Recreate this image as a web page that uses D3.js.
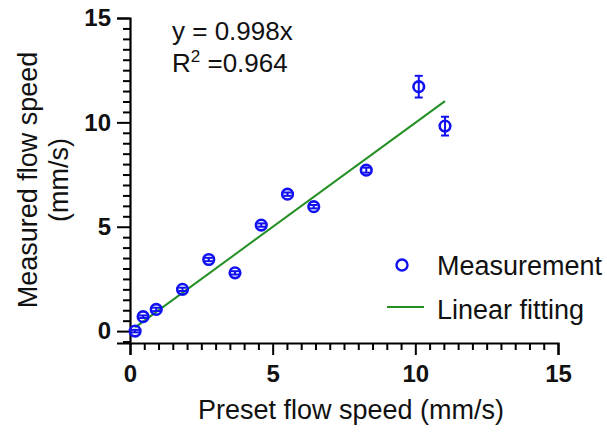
<!DOCTYPE html>
<html>
<head>
<meta charset="utf-8">
<script src="https://cdn.jsdelivr.net/npm/d3@7"></script>
<style>
  html, body { margin: 0; padding: 0; background: #fff; }
  svg { display: block; font-family: "Liberation Sans", Arial, sans-serif; }
</style>
</head>
<body>
<svg id="chart" width="607" height="433"></svg>
<script>
// ---- data ----
const presetSpeed   = [0.18, 0.46, 0.92, 1.84, 2.76, 3.68, 4.60, 5.52, 6.44, 8.28, 10.12, 11.04];
const measuredSpeed = [0.00, 0.69, 1.04, 2.00, 3.43, 2.79, 5.08, 6.56, 5.96, 7.71, 11.71, 9.82];
const measuredError = [0.06, 0.06, 0.08, 0.08, 0.08, 0.08, 0.08, 0.08, 0.08, 0.12, 0.52, 0.45];
const fitSlope = 0.998;
const fitRange = [0.18, 11.04];
const xTickValues = [0, 5, 10, 15];
const yTickValues = [0, 5, 10, 15];
const equationText = "y = 0.998x";
const r2Text = "=0.964";
const legendLabels = ["Measurement", "Linear fitting"];
const xTitle = "Preset flow speed (mm/s)";
const yTitleLines = ["Measured flow speed", "(mm/s)"];

// ---- chart ----
const svg = d3.select("#chart");
const blue = "#1010f0";
const green = "#249024";

const x = d3.scaleLinear().domain([0, 15]).range([130, 558]);
const y = d3.scaleLinear().domain([-0.57, 15]).range([343, 18]);

const minorX = d3.range(0, 15.01, 0.5).filter(v => v % 5 !== 0);
const minorY = d3.range(-0.5, 15.01, 0.5).filter(v => v % 5 !== 0);

// x axis
const gx = svg.append("g").attr("transform", `translate(0,${y(-0.57)})`);
gx.call(d3.axisBottom(x).tickValues(xTickValues).tickSize(12).tickPadding(10).tickFormat(d3.format("d")));
const gxm = svg.append("g").attr("transform", `translate(0,${y(-0.57)})`);
gxm.call(d3.axisBottom(x).tickValues(minorX).tickSize(7).tickFormat(""));
gxm.select(".domain").remove();

// y axis
const gy = svg.append("g").attr("transform", `translate(${x(0)},0)`);
gy.call(d3.axisLeft(y).tickValues(yTickValues).tickSize(13).tickPadding(6).tickFormat(d3.format("d")));
const gym = svg.append("g").attr("transform", `translate(${x(0)},0)`);
gym.call(d3.axisLeft(y).tickValues(minorY).tickSize(7).tickFormat(""));
gym.select(".domain").remove();

svg.selectAll(".domain").attr("stroke", "#000").attr("stroke-width", 2.2);
svg.selectAll(".tick line").attr("stroke", "#000").attr("stroke-width", 2);
svg.selectAll(".tick text")
  .attr("fill", "#111")
  .style("font-family", "'Liberation Sans', Arial, sans-serif")
  .style("font-size", "24px")
  .style("font-weight", "bold");

// axis titles
svg.append("text")
  .attr("x", 351).attr("y", 419)
  .attr("text-anchor", "middle")
  .style("font-size", "27px").attr("fill", "#111")
  .text(xTitle);

const yt = svg.append("text")
  .attr("transform", "translate(0,180) rotate(-90)")
  .attr("text-anchor", "middle")
  .style("font-size", "27px").attr("fill", "#111");
yTitleLines.forEach((t, i) => {
  yt.append("tspan").attr("x", 0).attr("y", 37 + i * 31).text(t);
});

// fit line
svg.append("line")
  .attr("x1", x(fitRange[0])).attr("y1", y(fitSlope * fitRange[0]))
  .attr("x2", x(fitRange[1])).attr("y2", y(fitSlope * fitRange[1]))
  .attr("stroke", green).attr("stroke-width", 2);

// error bars and points
const pts = presetSpeed.map((v, i) => ({x: v, y: measuredSpeed[i], e: measuredError[i]}));
const eb = svg.append("g").attr("stroke", blue).attr("stroke-width", 2);
eb.selectAll("line.v").data(pts).join("line").attr("class", "v")
  .attr("x1", d => x(d.x)).attr("x2", d => x(d.x))
  .attr("y1", d => y(d.y - d.e)).attr("y2", d => y(d.y + d.e));
eb.selectAll("line.t").data(pts).join("line").attr("class", "t")
  .attr("x1", d => x(d.x) - 4).attr("x2", d => x(d.x) + 4)
  .attr("y1", d => y(d.y + d.e)).attr("y2", d => y(d.y + d.e));
eb.selectAll("line.b").data(pts).join("line").attr("class", "b")
  .attr("x1", d => x(d.x) - 4).attr("x2", d => x(d.x) + 4)
  .attr("y1", d => y(d.y - d.e)).attr("y2", d => y(d.y - d.e));

svg.append("g").selectAll("circle").data(pts).join("circle")
  .attr("cx", d => x(d.x)).attr("cy", d => y(d.y)).attr("r", 5.3)
  .attr("fill", "none").attr("stroke", blue).attr("stroke-width", 2.6);

// equation
svg.append("text").attr("x", 172).attr("y", 40)
  .style("font-size", "26px").attr("fill", "#111").text(equationText);
const r2 = svg.append("text").attr("x", 172).attr("y", 72)
  .style("font-size", "26px").attr("fill", "#111");
r2.append("tspan").text("R");
r2.append("tspan").attr("dy", -10).style("font-size", "17px").text("2");
r2.append("tspan").attr("dy", 10).text(" " + r2Text);

// legend
svg.append("circle").attr("cx", 402).attr("cy", 265).attr("r", 5.5)
  .attr("fill", "none").attr("stroke", blue).attr("stroke-width", 2.4);
svg.append("line").attr("x1", 387).attr("x2", 424).attr("y1", 307).attr("y2", 307)
  .attr("stroke", green).attr("stroke-width", 2);
svg.append("text").attr("x", 437).attr("y", 275)
  .style("font-size", "27px").attr("fill", "#111").text(legendLabels[0]);
svg.append("text").attr("x", 437).attr("y", 319)
  .style("font-size", "27px").attr("fill", "#111").text(legendLabels[1]);
</script>
</body>
</html>
